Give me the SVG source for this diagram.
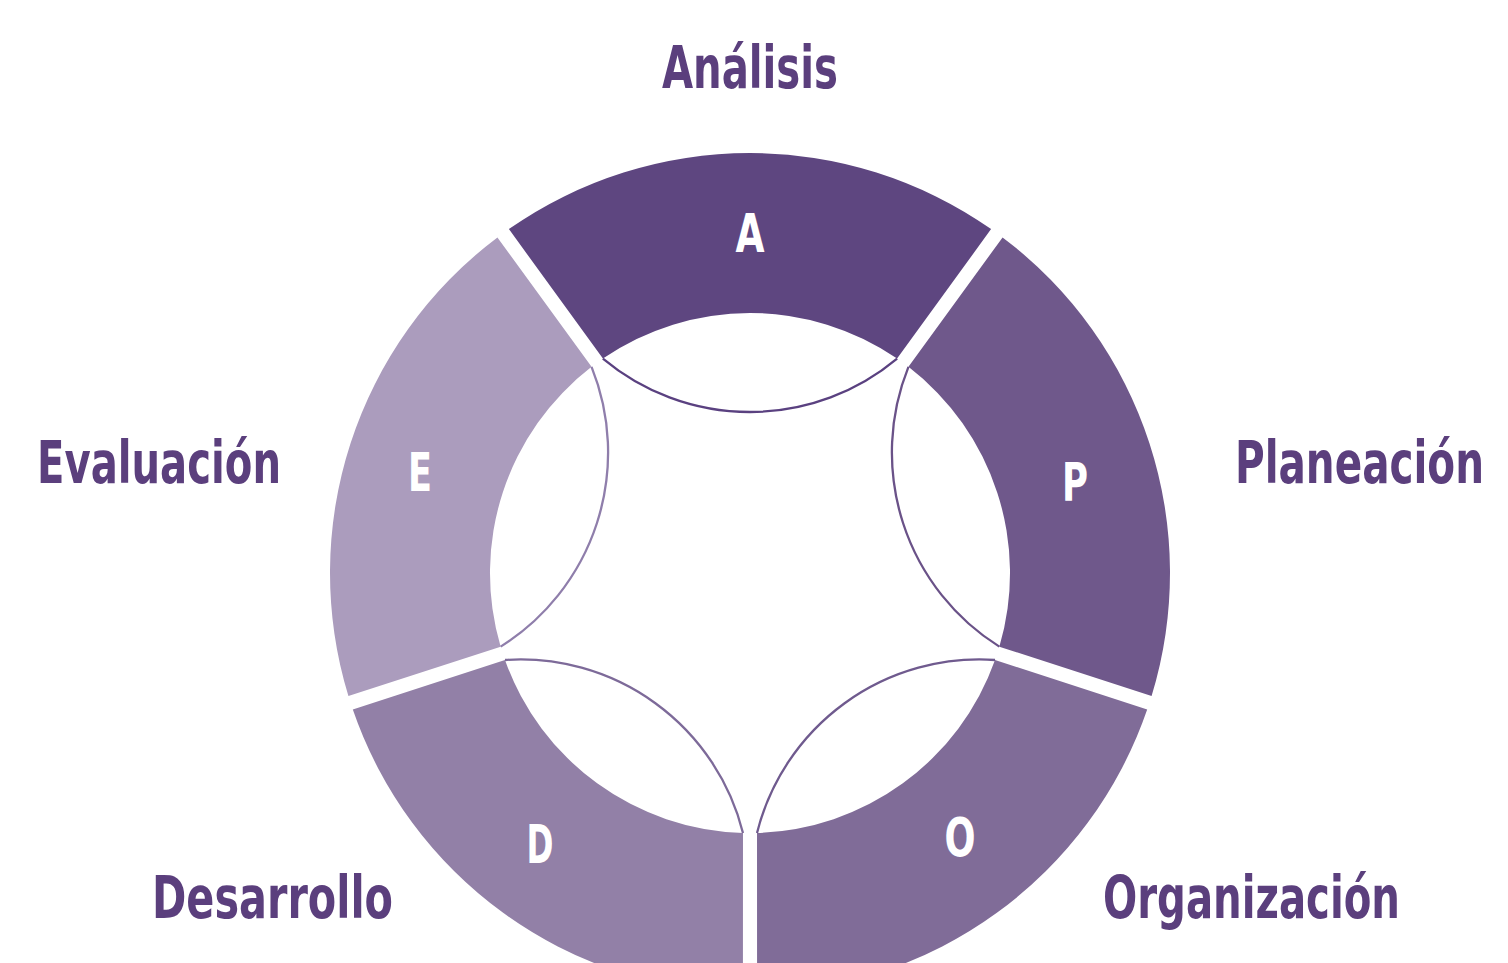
<svg xmlns="http://www.w3.org/2000/svg" width="1508" height="963" viewBox="0 0 1508 963">
  <style>
    .lbl { font-family: "DejaVu Sans Condensed", "DejaVu Sans", "Liberation Sans", sans-serif; font-weight: bold; font-size: 58px; fill: #5b3f7d; }
    .ltr { font-family: "DejaVu Sans Condensed", "DejaVu Sans", "Liberation Sans", sans-serif; font-weight: bold; font-size: 54px; fill: #ffffff; text-anchor: middle; }
    .lens { fill: none; stroke-width: 2.3; }
  </style>
  <defs>
    <path id="seg" d="M -241.1,-343.9 A 420 420 0 0 1 241.1,-343.9 L 147.1,-214.4 A 260 260 0 0 0 -147.1,-214.4 Z"/>
    <path id="arc" d="M 147.1,-214.4 A 229.3 229.3 0 0 1 -147.1,-214.4"/>
  </defs>
  <rect width="1508" height="963" fill="#ffffff"/>

  <g id="node-A">
    <use href="#seg" transform="translate(750,573) rotate(0)" fill="#5e4680"/>
    <use href="#arc" transform="translate(750,573) rotate(0)" class="lens" stroke="#5a4180"/>
    <text class="ltr" x="750" y="252" textLength="29" lengthAdjust="spacingAndGlyphs">A</text>
    <text class="lbl" x="750" y="88" text-anchor="middle" textLength="176" lengthAdjust="spacingAndGlyphs">Análisis</text>
  </g>
  <g id="node-P">
    <use href="#seg" transform="translate(750,573) rotate(72)" fill="#6f588b"/>
    <use href="#arc" transform="translate(750,573) rotate(72)" class="lens" stroke="#6a5288"/>
    <text class="ltr" x="1075" y="501" textLength="26" lengthAdjust="spacingAndGlyphs">P</text>
    <text class="lbl" x="1484" y="483" text-anchor="end" textLength="249" lengthAdjust="spacingAndGlyphs">Planeación</text>
  </g>
  <g id="node-O">
    <use href="#seg" transform="translate(750,573) rotate(144)" fill="#806c98"/>
    <use href="#arc" transform="translate(750,573) rotate(144)" class="lens" stroke="#6f5a8e"/>
    <text class="ltr" x="960" y="856" textLength="31" lengthAdjust="spacingAndGlyphs">O</text>
    <text class="lbl" x="1400" y="918" text-anchor="end" textLength="297" lengthAdjust="spacingAndGlyphs">Organización</text>
  </g>
  <g id="node-D">
    <use href="#seg" transform="translate(750,573) rotate(216)" fill="#9280a7"/>
    <use href="#arc" transform="translate(750,573) rotate(216)" class="lens" stroke="#7d6a99"/>
    <text class="ltr" x="540" y="863" textLength="27" lengthAdjust="spacingAndGlyphs">D</text>
    <text class="lbl" x="152" y="918" textLength="241" lengthAdjust="spacingAndGlyphs">Desarrollo</text>
  </g>
  <g id="node-E">
    <use href="#seg" transform="translate(750,573) rotate(288)" fill="#ab9cbd"/>
    <use href="#arc" transform="translate(750,573) rotate(288)" class="lens" stroke="#8f7eab"/>
    <text class="ltr" x="420" y="491" textLength="24" lengthAdjust="spacingAndGlyphs">E</text>
    <text class="lbl" x="37" y="483" textLength="244" lengthAdjust="spacingAndGlyphs">Evaluación</text>
  </g>
  <g id="connectors"></g>
</svg>
